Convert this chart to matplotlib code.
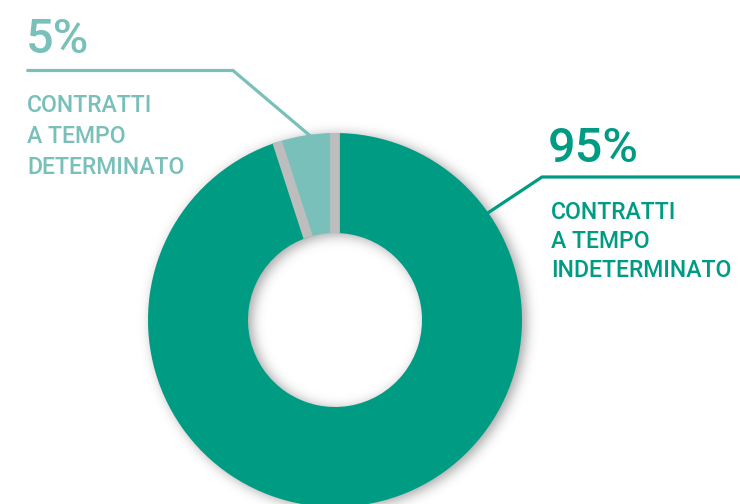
import numpy as np
import matplotlib
matplotlib.use("Agg")
from matplotlib import pyplot as plt

# contract shares
labels = ["CONTRATTI\nA TEMPO\nINDETERMINATO", "CONTRATTI\nA TEMPO\nDETERMINATO"]
shares = [95, 5]
pct_text = ["95%", "5%"]
colors = ["#009B83", "#78C0B9"]

W, H = 740, 504
cx, cy = 335, H - 320          # donut centre (y measured from bottom)
r_out, r_in = 187, 87

plt.rcParams['font.family'] = ['Roboto', 'DejaVu Sans']

fig = plt.figure(figsize=(W / 100, H / 100), dpi=100)
ax = fig.add_axes([0, 0, 1, 1])

# soft drop shadow under the ring
yy, xx = np.mgrid[0:H, 0:W] + 0.5
rr = np.hypot(xx - (cx + 4), yy - (H - cy + 2))
ring = ((rr <= r_out) & (rr >= r_in)).astype(float)
sigma = 6.0
k = np.exp(-0.5 * (np.arange(-20, 21) / sigma) ** 2)
k /= k.sum()
blur = np.apply_along_axis(lambda m: np.convolve(m, k, mode='same'), 0, ring)
blur = np.apply_along_axis(lambda m: np.convolve(m, k, mode='same'), 1, blur)
shadow = np.zeros((H, W, 4))
shadow[..., :3] = 0.35
shadow[..., 3] = blur * 0.55
ax.imshow(shadow, extent=(0, W, 0, H), origin='upper', interpolation='bilinear', zorder=0)

ax.pie(shares, colors=colors, startangle=90, counterclock=False,
       radius=r_out, center=(cx, cy),
       wedgeprops=dict(width=r_out - r_in, linewidth=0, zorder=2))

# gaps between the slices
bounds = 90 - 360 * np.cumsum(shares) / sum(shares)
for b in bounds:
    t = np.deg2rad(b)
    ax.plot([cx + r_in * np.cos(t), cx + r_out * np.cos(t)],
            [cy + r_in * np.sin(t), cy + r_out * np.sin(t)],
            color="#bdbdbd", lw=7, solid_capstyle='butt', zorder=3)

# leader lines
def on_ring(deg):
    t = np.deg2rad(deg)
    return cx + r_out * np.cos(t), cy + r_out * np.sin(t)

x0, y0 = on_ring(35)
ax.plot([x0, 542, W], [y0, H - 177, H - 177], color=colors[0], lw=2.3,
        solid_joinstyle='miter', zorder=4)
x1, y1 = on_ring(98)
ax.plot([x1, 233, 28], [y1, H - 70.5, H - 70.5], color=colors[1], lw=2.3,
        solid_joinstyle='miter', zorder=4)

# texts
txt = dict(va='baseline', ha='left', fontweight='medium')
ax.text(548, H - 162, pct_text[0], fontsize=35, color=colors[0], **txt)
for i, line in enumerate(labels[0].split("\n")):
    ax.text(551, H - (219 + 29 * i), line, fontsize=16.6, color=colors[0], **txt)

ax.text(26, H - 53, pct_text[1], fontsize=35, color=colors[1], **txt)
for i, line in enumerate(labels[1].split("\n")):
    ax.text(27, H - (112 + 31 * i), line, fontsize=16.6, color=colors[1], **txt)

ax.set_xlim(0, W)
ax.set_ylim(0, H)
ax.set_aspect('equal')
ax.axis('off')

fig.savefig("out.png", dpi=100)
